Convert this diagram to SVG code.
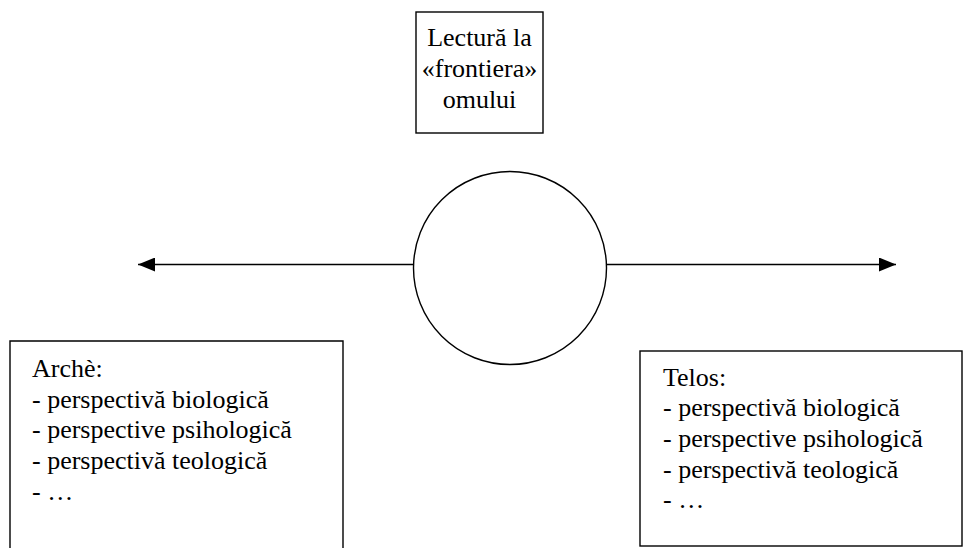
<svg xmlns="http://www.w3.org/2000/svg" width="963" height="548" viewBox="0 0 963 548">
<style>
  .box { fill: #ffffff; stroke: #000000; stroke-width: 1.4; }
  .t { font-family: "Liberation Serif", "Times New Roman", serif; font-size: 26px; fill: #000000; }
  .c { text-anchor: middle; }
  .conn { stroke: #000000; stroke-width: 1.4; fill: none; }
</style>
<defs>
  <marker id="arr" viewBox="0 0 17 14" refX="17" refY="7" markerWidth="17" markerHeight="14" markerUnits="userSpaceOnUse" orient="auto">
    <path d="M0,0 L17,7 L0,14 Z" fill="#000000"/>
  </marker>
</defs>
<rect width="963" height="548" fill="#ffffff"/>
<g id="connectors">
  <line class="conn" x1="413" y1="264.5" x2="138" y2="264.5" marker-end="url(#arr)"/>
  <line class="conn" x1="607" y1="264.5" x2="896" y2="264.5" marker-end="url(#arr)"/>
</g>
<g id="node-top">
  <rect class="box" x="416" y="12" width="127" height="121"/>
  <text class="t c" x="479.5" y="46">Lectură la</text>
  <text class="t c" x="479.5" y="77">«frontiera»</text>
  <text class="t c" x="479.5" y="108">omului</text>
</g>
<g id="node-circle">
  <circle class="box" cx="510" cy="268" r="96.5"/>
</g>
<g id="node-left">
  <path class="box" d="M10,560 L10,341 L343,341 L343,560"/>
  <text class="t" x="32" y="377">Archè:</text>
  <text class="t" x="32" y="407.7">- perspectivă biologică</text>
  <text class="t" x="32" y="438.4">- perspective psihologică</text>
  <text class="t" x="32" y="469.1">- perspectivă teologică</text>
  <text class="t" x="32" y="499.8">- …</text>
</g>
<g id="node-right">
  <rect class="box" x="640" y="351" width="322" height="195"/>
  <text class="t" x="663" y="385.5">Telos:</text>
  <text class="t" x="663" y="416.2">- perspectivă biologică</text>
  <text class="t" x="663" y="446.9">- perspective psihologică</text>
  <text class="t" x="663" y="477.6">- perspectivă teologică</text>
  <text class="t" x="663" y="508.3">- …</text>
</g>
</svg>
